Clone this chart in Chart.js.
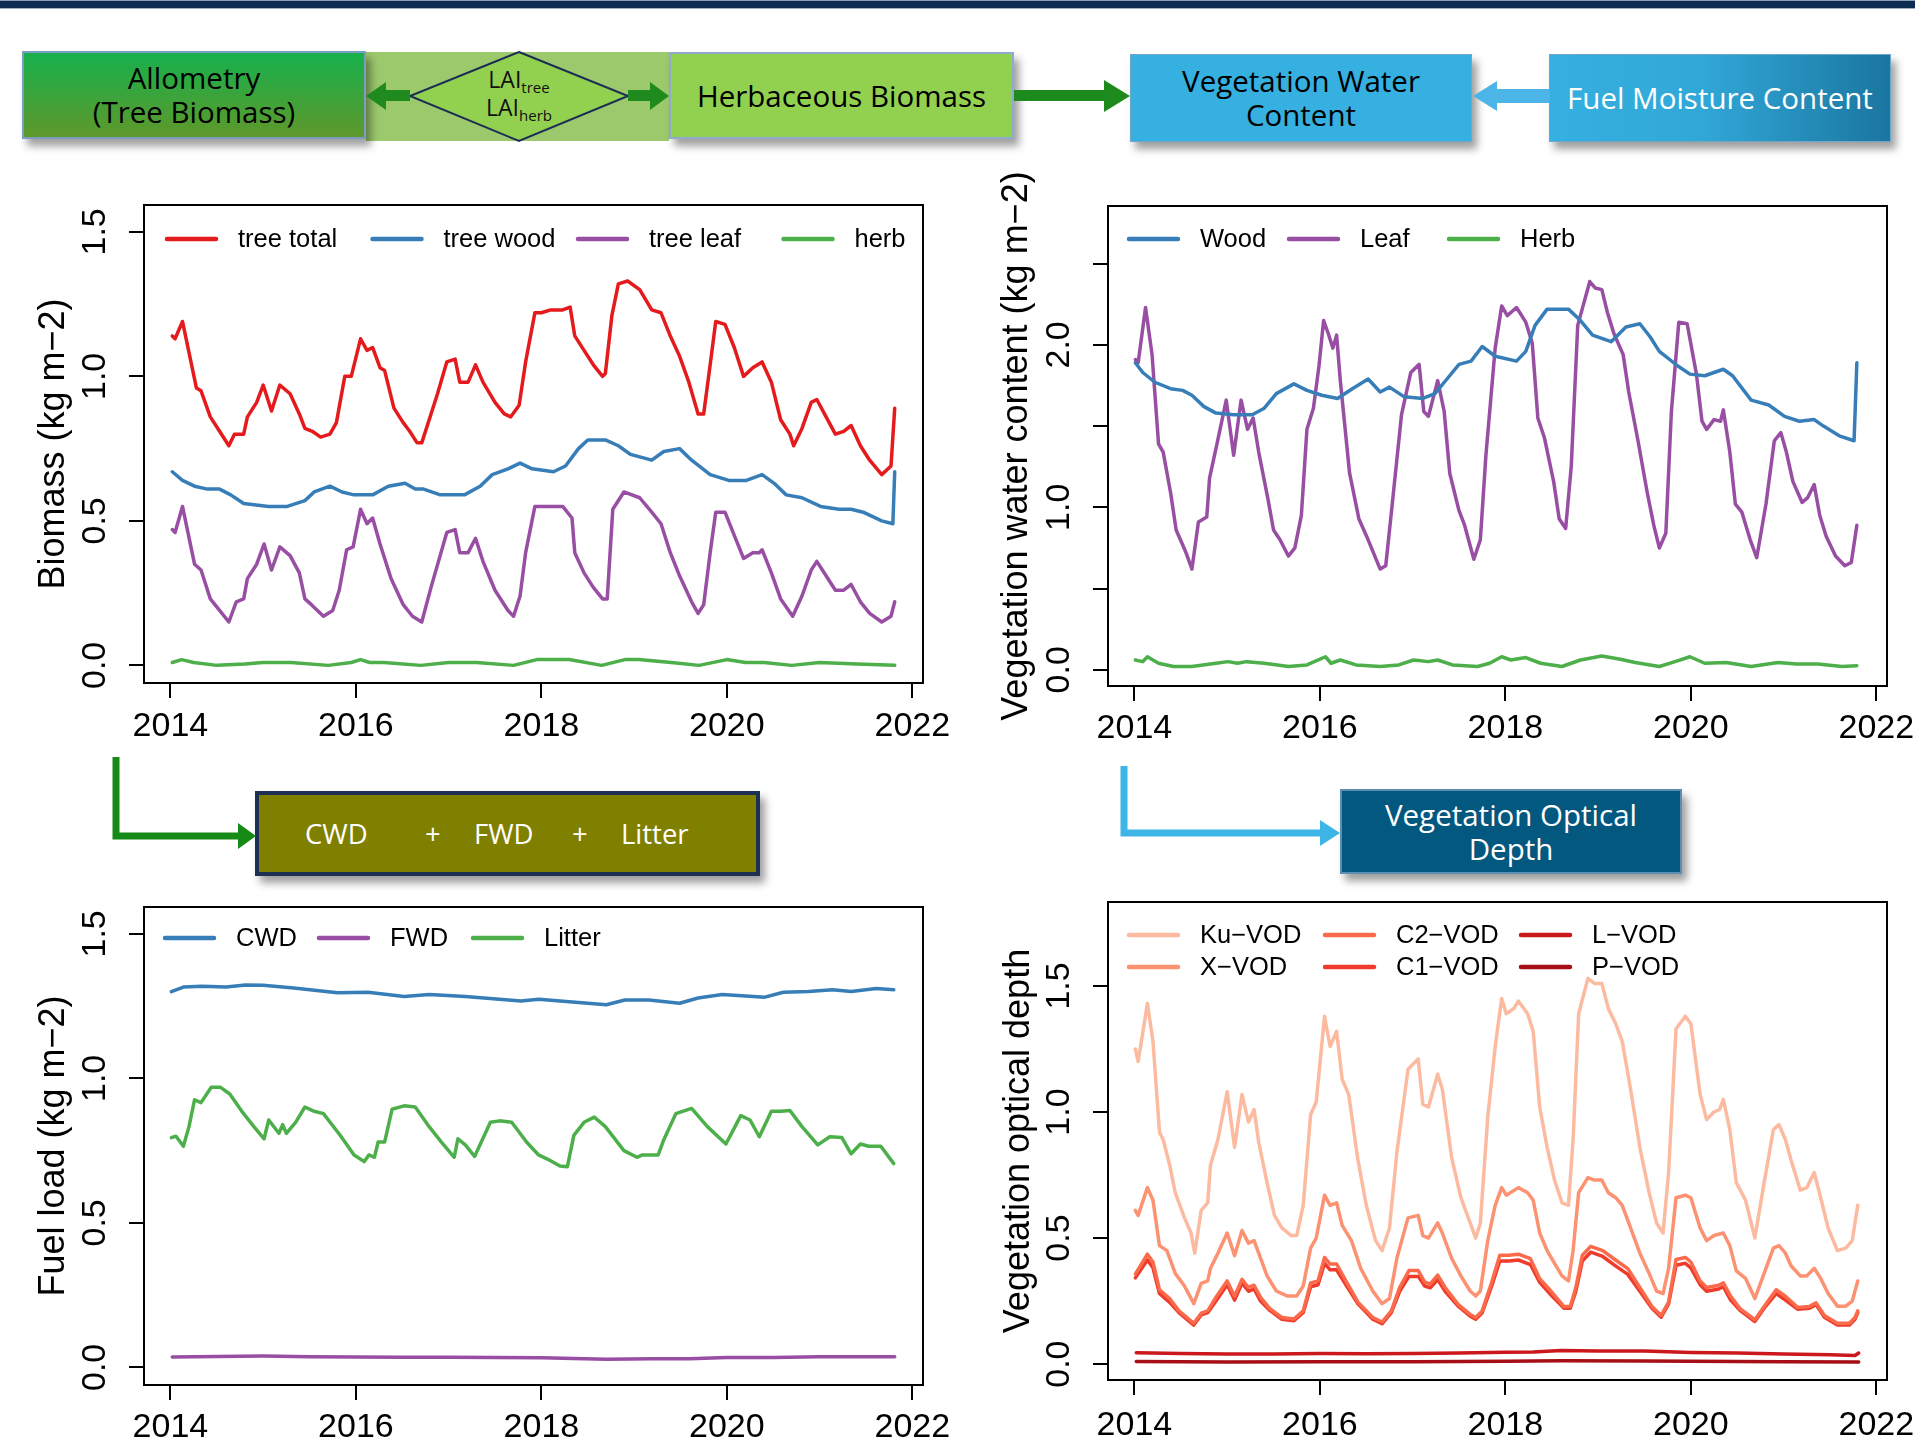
<!DOCTYPE html>
<html>
<head>
<meta charset="utf-8">
<script src="https://cdn.jsdelivr.net/npm/chart.js@4.4.1/dist/chart.umd.min.js"></script>
<style>
	body { margin: 0; width: 1915px; height: 1437px; background: #fff; position: relative; overflow: hidden; font-family: "Open Sans", sans-serif; }
	#topbar { position: absolute; left: 0; top: 0; width: 1915px; height: 7px; background: #0e2b52; border-top: 1px solid #8d9db3; border-bottom: 1px solid #a3afc0; }
	.box { position: absolute; box-sizing: border-box; display: flex; align-items: center; justify-content: center; text-align: center; font-size: 29.5px; line-height: 34px; box-shadow: 5px 7px 8px rgba(0,0,0,0.38); }
	.plot { position: absolute; }
	#arrows { position: absolute; left: 0; top: 0; }
	sub { font-size: 15px; vertical-align: -5px; line-height: 0; }
</style>
</head>
<body>
<div id="topbar"></div>

<div class="box" style="left:366px;top:52px;width:303px;height:89px;background:#9dc96d;box-shadow:none"></div>
<div class="box" style="left:22px;top:51px;width:344px;height:88px;background:linear-gradient(#17b04c,#5e982b);border:2px solid #7d9cc2">Allometry<br>(Tree Biomass)</div>
<div class="box" style="left:669px;top:52px;width:345px;height:87px;background:#92d050;border:2px solid #8fa9cf">Herbaceous Biomass</div>
<div class="box" style="left:1130px;top:54px;width:342px;height:88px;background:#35b0e0;border:1px solid #6fa7c9">Vegetation Water<br>Content</div>
<div class="box" style="left:1549px;top:54px;width:342px;height:88px;background:linear-gradient(to right,#35b0e0 0%,#31a7d7 45%,#1a76a0 100%);color:#fff;border:1px solid #6fa7c9">Fuel Moisture Content</div>
<div class="box" style="left:255px;top:791px;width:505px;height:85px;background:#808000;border:4px solid #1d2f52;color:#fff;font-size:27.5px;justify-content:flex-start">
	<span style="position:absolute;left:46px">CWD</span>
	<span style="position:absolute;left:166px">+</span>
	<span style="position:absolute;left:215px">FWD</span>
	<span style="position:absolute;left:313px">+</span>
	<span style="position:absolute;left:362px">Litter</span>
</div>
<div class="box" style="left:1340px;top:789px;width:342px;height:85px;background:#02587f;border:2px solid #5e8db2;color:#fff">Vegetation Optical<br>Depth</div>

<svg id="arrows" width="1915" height="1437">
	<polygon points="519,52 628,96 519,141 410,96" fill="#92d050" stroke="#1b2d55" stroke-width="2"/>
	<polygon points="410,90 386,90 386,82 366,96 386,110 386,101 410,101" fill="#1f8b1f"/>
	<polygon points="628,90 650,90 650,82 669,96 650,110 650,101 628,101" fill="#1f8b1f"/>
	<polygon points="1014,90 1104,90 1104,80 1130,96 1104,112 1104,101 1014,101" fill="#1c8a1c"/>
	<polygon points="1549,89 1497,89 1497,81 1473,96 1497,111 1497,103 1549,103" fill="#4ab5e6"/>
	<polyline points="116,757 116,836 240,836" fill="none" stroke="#168a16" stroke-width="7"/>
	<polygon points="238,823 256,836 238,849" fill="#168a16"/>
	<polyline points="1124,766 1124,833 1322,833" fill="none" stroke="#3db5e6" stroke-width="7"/>
	<polygon points="1320,820 1340,833 1320,846" fill="#3db5e6"/>
</svg>
<div style="position:absolute;left:440px;top:65px;width:158px;text-align:center;font-size:23px;line-height:28px;color:#111">LAI<sub>tree</sub><br>LAI<sub>herb</sub></div>

<div class="plot" style="left:0px;top:150px;width:960px;height:600px"><canvas id="cBiomass"></canvas></div>
<div class="plot" style="left:960px;top:150px;width:955px;height:600px"><canvas id="cWater"></canvas></div>
<div class="plot" style="left:0px;top:880px;width:960px;height:557px"><canvas id="cFuel"></canvas></div>
<div class="plot" style="left:960px;top:880px;width:955px;height:557px"><canvas id="cVod"></canvas></div>

<script>
// ---- data: [decimal year, value] ----
var years = [2014, 2016, 2018, 2020, 2022];

var treeTotal = [[2014.02,1.14],[2014.05,1.13],[2014.13,1.19],[2014.28,0.96],[2014.33,0.95],[2014.43,0.86],[2014.53,0.81],[2014.63,0.76],[2014.69,0.80],[2014.79,0.80],[2014.83,0.86],[2014.93,0.91],[2015.0,0.97],[2015.09,0.88],[2015.18,0.97],[2015.29,0.94],[2015.39,0.87],[2015.45,0.82],[2015.53,0.81],[2015.62,0.79],[2015.72,0.80],[2015.79,0.84],[2015.88,1.0],[2015.95,1.0],[2016.05,1.13],[2016.12,1.09],[2016.18,1.10],[2016.26,1.03],[2016.31,1.02],[2016.41,0.89],[2016.51,0.84],[2016.58,0.81],[2016.66,0.77],[2016.71,0.77],[2016.81,0.87],[2016.88,0.94],[2016.98,1.05],[2017.07,1.06],[2017.12,0.98],[2017.21,0.98],[2017.29,1.04],[2017.37,0.98],[2017.5,0.91],[2017.6,0.87],[2017.67,0.86],[2017.76,0.90],[2017.83,1.05],[2017.93,1.22],[2018.0,1.22],[2018.1,1.23],[2018.23,1.23],[2018.31,1.24],[2018.36,1.14],[2018.46,1.09],[2018.56,1.04],[2018.66,1.0],[2018.69,1.01],[2018.76,1.21],[2018.83,1.32],[2018.93,1.33],[2019.06,1.30],[2019.19,1.23],[2019.29,1.22],[2019.39,1.14],[2019.49,1.07],[2019.59,0.98],[2019.69,0.87],[2019.75,0.87],[2019.82,1.04],[2019.88,1.19],[2019.98,1.18],[2020.08,1.10],[2020.18,1.0],[2020.28,1.03],[2020.38,1.05],[2020.48,0.98],[2020.58,0.85],[2020.68,0.80],[2020.72,0.76],[2020.81,0.82],[2020.91,0.91],[2020.97,0.92],[2021.07,0.86],[2021.17,0.80],[2021.26,0.81],[2021.34,0.83],[2021.44,0.76],[2021.54,0.71],[2021.67,0.66],[2021.77,0.69],[2021.81,0.89]];
var treeWood = [[2014.02,0.67],[2014.13,0.64],[2014.26,0.62],[2014.4,0.61],[2014.53,0.61],[2014.65,0.59],[2014.79,0.56],[2015.06,0.55],[2015.26,0.55],[2015.45,0.57],[2015.55,0.60],[2015.72,0.62],[2015.85,0.60],[2015.98,0.59],[2016.18,0.59],[2016.35,0.62],[2016.53,0.63],[2016.64,0.61],[2016.73,0.61],[2016.91,0.59],[2017.17,0.59],[2017.34,0.62],[2017.47,0.66],[2017.64,0.68],[2017.77,0.70],[2017.9,0.68],[2018.13,0.67],[2018.26,0.69],[2018.4,0.75],[2018.5,0.78],[2018.69,0.78],[2018.83,0.76],[2018.96,0.73],[2019.19,0.71],[2019.32,0.74],[2019.49,0.75],[2019.62,0.71],[2019.82,0.66],[2020.02,0.64],[2020.21,0.64],[2020.38,0.66],[2020.51,0.63],[2020.64,0.59],[2020.81,0.58],[2021.01,0.55],[2021.21,0.54],[2021.34,0.54],[2021.47,0.53],[2021.67,0.50],[2021.79,0.49],[2021.81,0.67]];
var treeLeaf = [[2014.02,0.47],[2014.05,0.46],[2014.13,0.55],[2014.26,0.35],[2014.33,0.33],[2014.43,0.23],[2014.53,0.19],[2014.63,0.15],[2014.71,0.22],[2014.79,0.23],[2014.83,0.30],[2014.93,0.35],[2015.01,0.42],[2015.09,0.33],[2015.18,0.41],[2015.29,0.38],[2015.39,0.32],[2015.45,0.23],[2015.52,0.21],[2015.65,0.17],[2015.75,0.19],[2015.82,0.26],[2015.9,0.40],[2015.97,0.41],[2016.05,0.54],[2016.12,0.49],[2016.18,0.51],[2016.26,0.42],[2016.38,0.30],[2016.51,0.21],[2016.61,0.17],[2016.71,0.15],[2016.81,0.27],[2016.98,0.46],[2017.07,0.47],[2017.12,0.39],[2017.21,0.39],[2017.29,0.44],[2017.37,0.36],[2017.5,0.26],[2017.64,0.19],[2017.7,0.17],[2017.77,0.24],[2017.83,0.39],[2017.93,0.55],[2018.0,0.55],[2018.1,0.55],[2018.23,0.55],[2018.33,0.51],[2018.36,0.39],[2018.46,0.32],[2018.56,0.27],[2018.66,0.23],[2018.71,0.23],[2018.77,0.54],[2018.89,0.60],[2019.06,0.58],[2019.19,0.53],[2019.29,0.49],[2019.39,0.39],[2019.49,0.31],[2019.62,0.22],[2019.69,0.18],[2019.75,0.21],[2019.82,0.39],[2019.88,0.53],[2019.98,0.53],[2020.08,0.45],[2020.18,0.37],[2020.28,0.39],[2020.35,0.39],[2020.38,0.40],[2020.48,0.32],[2020.58,0.23],[2020.71,0.17],[2020.81,0.24],[2020.91,0.33],[2020.97,0.36],[2021.07,0.31],[2021.17,0.26],[2021.26,0.26],[2021.34,0.28],[2021.44,0.22],[2021.54,0.18],[2021.67,0.15],[2021.77,0.17],[2021.81,0.22]];
var herbBiomass = [[2014.02,0.01],[2014.12,0.02],[2014.25,0.01],[2014.5,0.0],[2014.8,0.005],[2015.0,0.01],[2015.3,0.01],[2015.7,0.0],[2015.95,0.01],[2016.05,0.02],[2016.15,0.01],[2016.3,0.01],[2016.7,0.0],[2017.0,0.01],[2017.3,0.01],[2017.7,0.0],[2017.95,0.02],[2018.3,0.02],[2018.65,0.0],[2018.9,0.02],[2019.05,0.02],[2019.4,0.01],[2019.7,0.0],[2020.0,0.02],[2020.2,0.01],[2020.4,0.01],[2020.7,0.0],[2021.0,0.01],[2021.4,0.005],[2021.81,0.0]];

var woodWater = [[2014.01,1.89],[2014.09,1.83],[2014.22,1.77],[2014.39,1.73],[2014.52,1.72],[2014.62,1.69],[2014.75,1.62],[2014.88,1.58],[2015.07,1.57],[2015.27,1.57],[2015.4,1.61],[2015.53,1.70],[2015.72,1.76],[2015.86,1.72],[2016.02,1.69],[2016.19,1.67],[2016.35,1.73],[2016.52,1.79],[2016.65,1.71],[2016.75,1.74],[2016.91,1.68],[2017.11,1.67],[2017.24,1.70],[2017.37,1.79],[2017.5,1.88],[2017.63,1.90],[2017.75,1.99],[2017.89,1.93],[2018.12,1.90],[2018.22,1.96],[2018.32,2.12],[2018.45,2.22],[2018.68,2.22],[2018.81,2.15],[2018.94,2.06],[2019.14,2.02],[2019.3,2.11],[2019.45,2.13],[2019.56,2.05],[2019.66,1.96],[2019.86,1.87],[2019.99,1.82],[2020.15,1.81],[2020.35,1.85],[2020.45,1.81],[2020.65,1.66],[2020.84,1.63],[2021.01,1.56],[2021.17,1.53],[2021.33,1.54],[2021.43,1.50],[2021.6,1.44],[2021.76,1.41],[2021.79,1.89]];
var leafWater = [[2014.01,1.91],[2014.04,1.89],[2014.12,2.23],[2014.19,1.94],[2014.26,1.39],[2014.31,1.34],[2014.39,1.09],[2014.45,0.86],[2014.55,0.73],[2014.62,0.62],[2014.69,0.91],[2014.78,0.94],[2014.81,1.18],[2014.89,1.39],[2014.99,1.66],[2015.07,1.32],[2015.15,1.66],[2015.22,1.48],[2015.28,1.55],[2015.34,1.34],[2015.44,1.05],[2015.5,0.86],[2015.57,0.80],[2015.66,0.70],[2015.73,0.75],[2015.8,0.95],[2015.86,1.48],[2015.93,1.61],[2015.99,1.87],[2016.04,2.15],[2016.09,2.07],[2016.14,1.98],[2016.18,2.06],[2016.22,1.78],[2016.32,1.21],[2016.42,0.93],[2016.52,0.80],[2016.65,0.62],[2016.71,0.64],[2016.78,1.02],[2016.88,1.57],[2016.98,1.83],[2017.07,1.88],[2017.12,1.59],[2017.17,1.56],[2017.27,1.78],[2017.34,1.59],[2017.4,1.21],[2017.5,0.98],[2017.56,0.89],[2017.66,0.68],[2017.73,0.80],[2017.79,1.32],[2017.89,1.98],[2017.96,2.24],[2018.02,2.18],[2018.12,2.23],[2018.22,2.14],[2018.29,2.01],[2018.35,1.55],[2018.42,1.43],[2018.52,1.16],[2018.58,0.93],[2018.65,0.87],[2018.71,1.25],[2018.78,2.12],[2018.91,2.39],[2018.97,2.35],[2019.04,2.34],[2019.1,2.20],[2019.17,2.07],[2019.27,1.94],[2019.33,1.71],[2019.43,1.41],[2019.53,1.09],[2019.6,0.89],[2019.66,0.75],[2019.73,0.84],[2019.79,1.59],[2019.87,2.14],[2019.96,2.13],[2020.06,1.82],[2020.12,1.53],[2020.17,1.48],[2020.25,1.54],[2020.32,1.53],[2020.35,1.60],[2020.42,1.34],[2020.48,1.02],[2020.55,0.97],[2020.64,0.80],[2020.71,0.69],[2020.81,1.02],[2020.9,1.41],[2020.97,1.46],[2021.03,1.34],[2021.1,1.16],[2021.2,1.03],[2021.26,1.06],[2021.33,1.14],[2021.39,0.95],[2021.46,0.82],[2021.56,0.70],[2021.66,0.64],[2021.73,0.66],[2021.79,0.89]];
var herbWater = [[2014.01,0.06],[2014.09,0.05],[2014.14,0.08],[2014.26,0.04],[2014.42,0.02],[2014.62,0.02],[2014.88,0.04],[2015.01,0.05],[2015.11,0.04],[2015.21,0.05],[2015.4,0.04],[2015.66,0.02],[2015.86,0.03],[2016.06,0.08],[2016.12,0.04],[2016.22,0.06],[2016.39,0.03],[2016.65,0.02],[2016.85,0.03],[2017.01,0.06],[2017.17,0.05],[2017.27,0.06],[2017.43,0.03],[2017.7,0.02],[2017.83,0.04],[2017.96,0.08],[2018.06,0.06],[2018.22,0.075],[2018.38,0.04],[2018.61,0.02],[2018.81,0.06],[2019.04,0.085],[2019.24,0.065],[2019.4,0.045],[2019.66,0.02],[2019.83,0.05],[2019.99,0.08],[2020.15,0.04],[2020.38,0.045],[2020.65,0.02],[2020.94,0.045],[2021.14,0.035],[2021.37,0.035],[2021.63,0.02],[2021.79,0.025]];

var cwd = [[2014.01,1.30],[2014.14,1.316],[2014.34,1.319],[2014.6,1.316],[2014.81,1.323],[2015.0,1.322],[2015.33,1.313],[2015.8,1.296],[2016.13,1.298],[2016.52,1.283],[2016.79,1.29],[2017.18,1.283],[2017.78,1.268],[2017.97,1.274],[2018.7,1.255],[2018.9,1.271],[2019.16,1.271],[2019.49,1.26],[2019.69,1.278],[2019.95,1.29],[2020.41,1.281],[2020.61,1.298],[2020.88,1.301],[2021.14,1.307],[2021.34,1.301],[2021.61,1.311],[2021.8,1.307]];
var fwd = [[2014.02,0.036],[2014.5,0.038],[2015.0,0.039],[2015.5,0.037],[2016.0,0.036],[2016.5,0.035],[2017.0,0.035],[2017.5,0.034],[2018.0,0.033],[2018.7,0.028],[2019.2,0.030],[2019.6,0.030],[2020.0,0.034],[2020.5,0.034],[2021.0,0.037],[2021.5,0.037],[2021.81,0.037]];
var litter = [[2014.01,0.795],[2014.06,0.80],[2014.14,0.765],[2014.2,0.833],[2014.26,0.926],[2014.33,0.916],[2014.44,0.969],[2014.54,0.969],[2014.64,0.946],[2014.77,0.886],[2014.9,0.833],[2015.01,0.791],[2015.06,0.856],[2015.17,0.81],[2015.21,0.84],[2015.25,0.81],[2015.35,0.848],[2015.45,0.901],[2015.55,0.886],[2015.65,0.878],[2015.83,0.803],[2015.98,0.735],[2016.09,0.712],[2016.14,0.735],[2016.2,0.727],[2016.24,0.78],[2016.31,0.78],[2016.39,0.893],[2016.52,0.905],[2016.64,0.901],[2016.79,0.833],[2016.92,0.78],[2017.06,0.727],[2017.1,0.791],[2017.18,0.77],[2017.28,0.73],[2017.45,0.848],[2017.55,0.853],[2017.68,0.848],[2017.84,0.78],[2017.97,0.735],[2018.07,0.72],[2018.2,0.697],[2018.28,0.694],[2018.35,0.803],[2018.46,0.848],[2018.57,0.866],[2018.69,0.833],[2018.89,0.75],[2019.03,0.727],[2019.09,0.735],[2019.26,0.735],[2019.32,0.788],[2019.45,0.878],[2019.62,0.896],[2019.79,0.833],[2019.99,0.773],[2020.15,0.871],[2020.25,0.856],[2020.35,0.798],[2020.48,0.886],[2020.58,0.886],[2020.68,0.889],[2020.81,0.833],[2020.98,0.77],[2021.11,0.798],[2021.24,0.795],[2021.34,0.739],[2021.44,0.773],[2021.53,0.765],[2021.66,0.765],[2021.8,0.705]];

var kuVod = [[2014.01,1.25],[2014.04,1.20],[2014.14,1.43],[2014.2,1.28],[2014.27,0.92],[2014.31,0.89],[2014.38,0.79],[2014.44,0.68],[2014.54,0.58],[2014.61,0.52],[2014.65,0.44],[2014.72,0.61],[2014.79,0.64],[2014.82,0.79],[2014.9,0.89],[2015.0,1.08],[2015.08,0.86],[2015.16,1.07],[2015.23,0.96],[2015.29,1.01],[2015.34,0.88],[2015.43,0.72],[2015.51,0.59],[2015.59,0.54],[2015.69,0.51],[2015.75,0.51],[2015.82,0.63],[2015.9,0.99],[2015.96,1.04],[2016.05,1.38],[2016.11,1.26],[2016.18,1.32],[2016.24,1.13],[2016.31,1.07],[2016.41,0.81],[2016.5,0.63],[2016.6,0.49],[2016.67,0.45],[2016.75,0.54],[2016.83,0.84],[2016.95,1.17],[2017.06,1.21],[2017.11,1.03],[2017.17,1.02],[2017.27,1.15],[2017.32,1.09],[2017.42,0.82],[2017.52,0.66],[2017.62,0.56],[2017.68,0.50],[2017.73,0.56],[2017.81,0.98],[2017.89,1.26],[2017.96,1.45],[2018.01,1.39],[2018.09,1.41],[2018.14,1.44],[2018.24,1.39],[2018.3,1.32],[2018.37,1.02],[2018.45,0.86],[2018.53,0.73],[2018.61,0.64],[2018.68,0.63],[2018.73,0.89],[2018.79,1.39],[2018.89,1.53],[2018.96,1.51],[2019.04,1.51],[2019.11,1.41],[2019.19,1.35],[2019.26,1.28],[2019.35,1.09],[2019.45,0.86],[2019.55,0.68],[2019.63,0.56],[2019.7,0.52],[2019.76,0.76],[2019.84,1.33],[2019.94,1.38],[2020.0,1.35],[2020.1,1.07],[2020.17,0.97],[2020.25,1.0],[2020.31,1.01],[2020.35,1.05],[2020.42,0.93],[2020.49,0.72],[2020.59,0.65],[2020.69,0.50],[2020.79,0.72],[2020.89,0.93],[2020.95,0.95],[2021.02,0.89],[2021.08,0.81],[2021.18,0.69],[2021.25,0.70],[2021.33,0.76],[2021.4,0.66],[2021.48,0.54],[2021.58,0.45],[2021.67,0.46],[2021.74,0.49],[2021.8,0.63]];
var xVod = [[2014.01,0.61],[2014.04,0.59],[2014.14,0.70],[2014.2,0.65],[2014.27,0.47],[2014.35,0.45],[2014.44,0.36],[2014.54,0.31],[2014.64,0.24],[2014.72,0.32],[2014.79,0.33],[2014.82,0.38],[2014.9,0.44],[2015.0,0.52],[2015.08,0.43],[2015.16,0.53],[2015.23,0.48],[2015.29,0.49],[2015.34,0.44],[2015.43,0.35],[2015.53,0.29],[2015.65,0.27],[2015.75,0.27],[2015.82,0.31],[2015.9,0.46],[2015.96,0.50],[2016.05,0.67],[2016.11,0.63],[2016.18,0.64],[2016.24,0.55],[2016.34,0.49],[2016.44,0.38],[2016.57,0.29],[2016.67,0.24],[2016.75,0.26],[2016.83,0.42],[2016.95,0.58],[2017.06,0.59],[2017.11,0.51],[2017.17,0.50],[2017.27,0.56],[2017.32,0.52],[2017.42,0.42],[2017.52,0.35],[2017.62,0.29],[2017.68,0.27],[2017.73,0.29],[2017.81,0.49],[2017.89,0.63],[2017.96,0.70],[2018.01,0.67],[2018.14,0.70],[2018.24,0.68],[2018.3,0.65],[2018.37,0.52],[2018.45,0.45],[2018.53,0.40],[2018.61,0.35],[2018.68,0.33],[2018.73,0.45],[2018.79,0.68],[2018.89,0.74],[2018.96,0.73],[2019.04,0.73],[2019.11,0.68],[2019.19,0.66],[2019.26,0.63],[2019.35,0.54],[2019.45,0.44],[2019.55,0.36],[2019.63,0.29],[2019.7,0.28],[2019.76,0.38],[2019.84,0.66],[2019.94,0.67],[2020.0,0.66],[2020.1,0.54],[2020.17,0.49],[2020.25,0.51],[2020.35,0.52],[2020.42,0.47],[2020.49,0.37],[2020.59,0.34],[2020.69,0.26],[2020.79,0.36],[2020.89,0.46],[2020.95,0.47],[2021.02,0.44],[2021.08,0.39],[2021.18,0.35],[2021.25,0.35],[2021.33,0.38],[2021.4,0.34],[2021.48,0.28],[2021.58,0.23],[2021.67,0.23],[2021.74,0.25],[2021.8,0.33]];
var c2Vod = [[2014.01,0.357],[2014.14,0.436],[2014.2,0.405],[2014.27,0.295],[2014.38,0.26],[2014.48,0.211],[2014.64,0.162],[2014.72,0.202],[2014.79,0.211],[2014.87,0.26],[2015.0,0.33],[2015.08,0.269],[2015.16,0.336],[2015.23,0.304],[2015.29,0.313],[2015.36,0.265],[2015.46,0.22],[2015.59,0.185],[2015.72,0.179],[2015.82,0.211],[2015.9,0.322],[2015.98,0.33],[2016.05,0.423],[2016.11,0.397],[2016.18,0.397],[2016.28,0.33],[2016.41,0.246],[2016.57,0.185],[2016.67,0.167],[2016.77,0.211],[2016.86,0.304],[2016.96,0.371],[2017.06,0.371],[2017.13,0.325],[2017.19,0.318],[2017.27,0.353],[2017.35,0.304],[2017.49,0.237],[2017.62,0.197],[2017.68,0.185],[2017.75,0.211],[2017.85,0.322],[2017.94,0.432],[2018.04,0.432],[2018.14,0.436],[2018.27,0.418],[2018.37,0.339],[2018.5,0.286],[2018.63,0.229],[2018.7,0.229],[2018.76,0.304],[2018.83,0.432],[2018.92,0.467],[2019.05,0.45],[2019.18,0.415],[2019.32,0.379],[2019.45,0.304],[2019.58,0.229],[2019.68,0.193],[2019.76,0.246],[2019.84,0.415],[2019.94,0.423],[2020.0,0.405],[2020.1,0.33],[2020.17,0.304],[2020.3,0.313],[2020.35,0.322],[2020.43,0.269],[2020.53,0.22],[2020.69,0.176],[2020.79,0.229],[2020.92,0.295],[2021.02,0.269],[2021.15,0.225],[2021.28,0.229],[2021.35,0.243],[2021.44,0.193],[2021.58,0.162],[2021.71,0.162],[2021.77,0.185],[2021.8,0.211]];
var c1Vod = [[2014.01,0.342],[2014.14,0.413],[2014.2,0.382],[2014.27,0.28],[2014.38,0.245],[2014.48,0.204],[2014.64,0.155],[2014.72,0.195],[2014.79,0.204],[2014.87,0.245],[2015.0,0.315],[2015.08,0.254],[2015.16,0.321],[2015.23,0.289],[2015.29,0.298],[2015.36,0.25],[2015.46,0.213],[2015.59,0.178],[2015.72,0.172],[2015.82,0.204],[2015.9,0.307],[2015.98,0.315],[2016.05,0.40],[2016.11,0.374],[2016.18,0.374],[2016.28,0.315],[2016.41,0.239],[2016.57,0.178],[2016.67,0.16],[2016.77,0.204],[2016.86,0.289],[2016.96,0.348],[2017.06,0.348],[2017.13,0.31],[2017.19,0.303],[2017.27,0.335],[2017.35,0.289],[2017.49,0.23],[2017.62,0.19],[2017.68,0.178],[2017.75,0.204],[2017.85,0.307],[2017.94,0.409],[2018.04,0.409],[2018.14,0.413],[2018.27,0.395],[2018.37,0.324],[2018.5,0.271],[2018.63,0.222],[2018.7,0.222],[2018.76,0.289],[2018.83,0.409],[2018.92,0.444],[2019.05,0.427],[2019.18,0.392],[2019.32,0.356],[2019.45,0.289],[2019.58,0.222],[2019.68,0.186],[2019.76,0.239],[2019.84,0.392],[2019.94,0.40],[2020.0,0.382],[2020.1,0.315],[2020.17,0.289],[2020.3,0.298],[2020.35,0.307],[2020.43,0.254],[2020.53,0.213],[2020.69,0.169],[2020.79,0.222],[2020.92,0.28],[2021.02,0.254],[2021.15,0.218],[2021.28,0.222],[2021.35,0.236],[2021.44,0.186],[2021.58,0.155],[2021.71,0.155],[2021.77,0.178],[2021.8,0.204]];
var lVod = [[2014.02,0.045],[2014.5,0.042],[2015.0,0.040],[2015.5,0.040],[2016.0,0.042],[2016.5,0.041],[2017.0,0.042],[2017.5,0.044],[2018.0,0.047],[2018.3,0.048],[2018.6,0.054],[2019.0,0.052],[2019.5,0.052],[2020.0,0.046],[2020.5,0.044],[2021.0,0.040],[2021.5,0.037],[2021.77,0.034],[2021.81,0.044]];
var pVod = [[2014.02,0.010],[2015.0,0.008],[2016.0,0.009],[2017.0,0.009],[2018.0,0.011],[2018.6,0.013],[2019.5,0.012],[2020.0,0.011],[2021.0,0.009],[2021.81,0.008]];

var FONT = '"Liberation Sans", Arial, sans-serif';

function pts(arr) {
	return arr.map(function(p) { return {x: p[0], y: p[1]}; });
}

function line(label, arr, color) {
	return {label: label, data: pts(arr), borderColor: color, backgroundColor: color,
		borderWidth: 3.5, pointRadius: 0, tension: 0, borderCapStyle: 'round', borderJoinStyle: 'round', fill: false};
}

// draws the R style box, rotated y labels and the in-plot legend
var rFrame = {
	id: 'rFrame',
	afterDraw: function(chart, args, o) {
		var ctx = chart.ctx, a = chart.chartArea, ys = chart.scales.y;
		ctx.save();
		ctx.strokeStyle = '#000';
		ctx.lineWidth = 2;
		ctx.strokeRect(a.left, a.top, a.right - a.left, a.bottom - a.top);

		ctx.fillStyle = '#000';
		ctx.font = '34px ' + FONT;
		ctx.textAlign = 'center';
		ctx.textBaseline = 'middle';
		ys.ticks.forEach(function(t) {
			if (o.yLabels.indexOf(t.value) < 0) return;
			ctx.save();
			ctx.translate(a.left - o.yLabelOffset, ys.getPixelForValue(t.value));
			ctx.rotate(-Math.PI / 2);
			ctx.fillText(t.value.toFixed(1), 0, 0);
			ctx.restore();
		});

		var lg = o.legend;
		ctx.font = '25.5px ' + FONT;
		ctx.textAlign = 'left';
		ctx.lineWidth = 4.5;
		ctx.lineCap = 'round';
		chart.data.datasets.forEach(function(d, i) {
			var col = Math.floor(i / lg.rows), row = i % lg.rows;
			var x = a.left + lg.x + col * lg.dx, y = a.top + lg.y + row * lg.dy;
			ctx.strokeStyle = d.borderColor;
			ctx.beginPath();
			ctx.moveTo(x, y);
			ctx.lineTo(x + 49, y);
			ctx.stroke();
			ctx.fillText(d.label, x + 71, y + 1);
		});
		ctx.restore();
	}
};

function doChart(id, datasets, c) {
	var tickGrid = {drawOnChartArea: false, drawTicks: true, tickLength: 15, color: '#000', lineWidth: 2};
	return new Chart(document.getElementById(id), {
		type: 'line',
		data: {datasets: datasets},
		options: {
			responsive: true,
			maintainAspectRatio: false,
			animation: false,
			layout: {padding: {left: 0, top: c.top, right: c.right, bottom: 0}},
			plugins: {
				legend: {display: false},
				tooltip: {enabled: false},
				rFrame: {yLabels: c.yLabels, yLabelOffset: 48, legend: c.legend}
			},
			scales: {
				x: {
					type: 'linear', min: 2013.715, max: 2022.115,
					afterBuildTicks: function(s) { s.ticks = years.map(function(v) { return {value: v}; }); },
					afterFit: function(s) { s.height = c.xh; s.paddingLeft = 0; s.paddingRight = 0; },
					grid: tickGrid,
					border: {display: false},
					ticks: {autoSkip: false, maxRotation: 0, minRotation: 0, padding: c.xpad, color: '#000',
						font: {family: FONT, size: 34}, callback: function(v) { return String(v); }}
				},
				y: {
					type: 'linear', min: c.ymin, max: c.ymax,
					afterBuildTicks: function(s) { s.ticks = c.yTicks.map(function(v) { return {value: v}; }); },
					afterFit: function(s) { s.width = c.yw; s.paddingTop = 0; s.paddingBottom = 0; },
					grid: tickGrid,
					border: {display: false},
					ticks: {display: false},
					title: {display: true, text: c.title, color: '#000', font: {family: FONT, size: 36},
						padding: {top: c.titlePad, bottom: 0}}
				}
			}
		},
		plugins: [rFrame]
	});
}

doChart('cBiomass', [
	line('tree total', treeTotal, '#e41a1c'),
	line('tree wood', treeWood, '#377eb8'),
	line('tree leaf', treeLeaf, '#984ea3'),
	line('herb', herbBiomass, '#4daf4a')
], {top: 55, right: 37, yw: 144, xh: 67, xpad: 8, ymin: -0.061, ymax: 1.593, titlePad: 32,
	yTicks: [0, 0.5, 1, 1.5], yLabels: [0, 0.5, 1, 1.5], title: 'Biomass (kg m\u22122)',
	legend: {x: 23, y: 34, dx: 205.5, dy: 0, rows: 1}});

doChart('cWater', [
	line('Wood', woodWater, '#377eb8'),
	line('Leaf', leafWater, '#984ea3'),
	line('Herb', herbWater, '#4daf4a')
], {top: 56, right: 28, yw: 148, xh: 64, xpad: 7, ymin: -0.1, ymax: 2.855, titlePad: 35,
	yTicks: [0, 0.5, 1, 1.5, 2, 2.5], yLabels: [0, 1, 2], title: 'Vegetation water content (kg m\u22122)',
	legend: {x: 21, y: 33, dx: 160, dy: 0, rows: 1}});

doChart('cFuel', [
	line('CWD', cwd, '#377eb8'),
	line('FWD', fwd, '#984ea3'),
	line('Litter', litter, '#4daf4a')
], {top: 27, right: 37, yw: 144, xh: 52, xpad: 7, ymin: -0.061, ymax: 1.593, titlePad: 32,
	yTicks: [0, 0.5, 1, 1.5], yLabels: [0, 0.5, 1, 1.5], title: 'Fuel load (kg m\u22122)',
	legend: {x: 21, y: 31, dx: 154, dy: 0, rows: 1}});

doChart('cVod', [
	line('Ku\u2212VOD', kuVod, '#fcbba1'),
	line('X\u2212VOD', xVod, '#fc9272'),
	line('C2\u2212VOD', c2Vod, '#fb6a4a'),
	line('C1\u2212VOD', c1Vod, '#ef3b2c'),
	line('L\u2212VOD', lVod, '#cb181d'),
	line('P\u2212VOD', pVod, '#a50f15')
], {top: 22, right: 28, yw: 148, xh: 57, xpad: 10, ymin: -0.063, ymax: 1.833, titlePad: 37,
	yTicks: [0, 0.5, 1, 1.5], yLabels: [0, 0.5, 1, 1.5], title: 'Vegetation optical depth',
	legend: {x: 21, y: 33, dx: 196, dy: 32, rows: 2}});
</script>
</body>
</html>
